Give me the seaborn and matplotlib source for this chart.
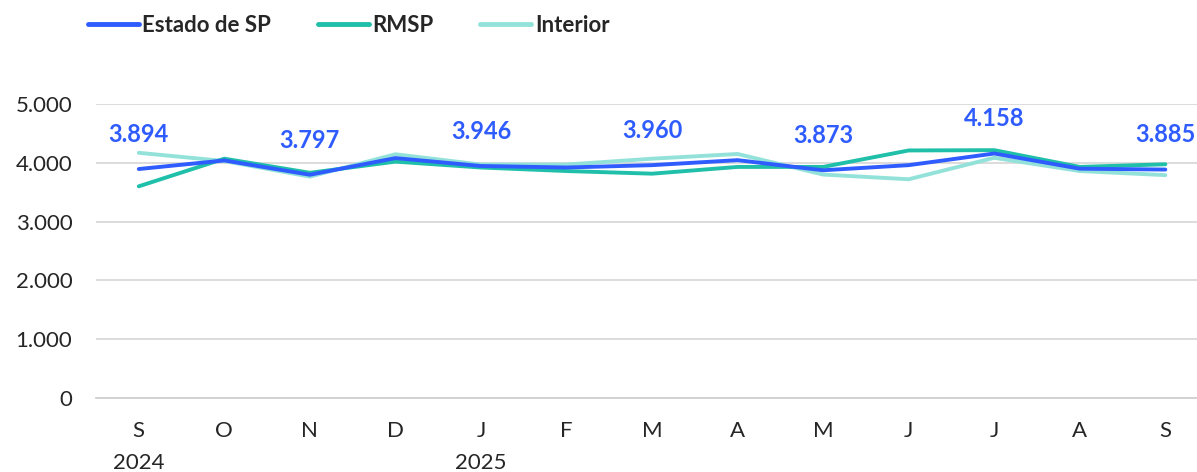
import pandas as pd
import numpy as np
import matplotlib.pyplot as plt
import seaborn as sns

# monthly values, Sep/2024 .. Sep/2025
months = ['S', 'O', 'N', 'D', 'J', 'F', 'M', 'A', 'M', 'J', 'J', 'A', 'S']
years = {0: '2024', 4: '2025'}
estado_sp = [3894, 4040, 3797, 4080, 3946, 3920, 3960, 4045, 3873, 3960, 4158, 3900, 3885]
rmsp = [3600, 4070, 3830, 4020, 3920, 3860, 3815, 3930, 3930, 4210, 4215, 3930, 3975]
interior = [4170, 4030, 3765, 4145, 3970, 3970, 4070, 4150, 3800, 3720, 4085, 3860, 3790]
label_idx = [0, 2, 4, 6, 8, 10, 12]

series_names = ['Estado de SP', 'RMSP', 'Interior']
colors = {'Estado de SP': '#2f5cff', 'RMSP': '#1fbfa9', 'Interior': '#93e2da'}

df = pd.DataFrame({
    'pos': list(range(len(months))) * 3,
    'valor': estado_sp + rmsp + interior,
    'serie': np.repeat(series_names, len(months)),
})

sns.set_style('white')
plt.rcParams['font.family'] = ['Lato', 'DejaVu Sans']

fig = plt.figure(figsize=(11.97, 4.72), dpi=100)
ax = fig.add_axes([96 / 1197, 74 / 472, 1101 / 1197, 294 / 472])

# draw lighter series first so the state line sits on top
for name in ['Interior', 'RMSP', 'Estado de SP']:
    sub = df[df['serie'] == name]
    sns.lineplot(data=sub, x='pos', y='valor', color=colors[name], lw=2.8,
                 ax=ax, label=name, legend=False)

for i in label_idx:
    v = estado_sp[i]
    ax.annotate(f'{v:,}'.replace(',', '.'), (i, v), xytext=(0, 25),
                textcoords='offset points', ha='center', va='center',
                color='#2f5cff', fontsize=17, fontweight='bold')

ax.set_ylim(0, 5000)
ax.set_yticks(range(0, 5001, 1000))
ax.set_yticklabels([f'{t:,}'.replace(',', '.') for t in range(0, 5001, 1000)], fontsize=16)
ax.set_xlim(-0.5, 12.37)
ax.set_xticks(np.arange(-0.5, 12.5, 1))
ax.set_xticklabels([])
ax.tick_params(axis='x', length=7, color='#d0d0d0', width=1, direction='out')
ax.tick_params(axis='y', length=0, pad=17)
for i, m in enumerate(months):
    ax.text(i, -560, m, ha='center', va='center', fontsize=16)
for i, y in years.items():
    ax.text(i, -1100, y, ha='center', va='center', fontsize=16)

ax.grid(axis='y', color='#d9d9d9', lw=1.3)
ax.set_axisbelow(True)
for s in ['top', 'right', 'left']:
    ax.spines[s].set_visible(False)
ax.spines['bottom'].set_color('#d0d0d0')
ax.spines['bottom'].set_linewidth(1.3)
ax.set_xlabel('')
ax.set_ylabel('')

handles = [plt.Line2D([], [], color=colors[n], lw=3.5) for n in series_names]
fig.legend(handles, series_names, loc='center left', bbox_to_anchor=(68 / 1197, 1 - 25 / 472),
           ncol=3, frameon=False, prop={'size': 16, 'weight': 'bold'},
           handlelength=2.3, handletextpad=0.15, columnspacing=2.1)

fig.savefig('out.png', dpi=100)
